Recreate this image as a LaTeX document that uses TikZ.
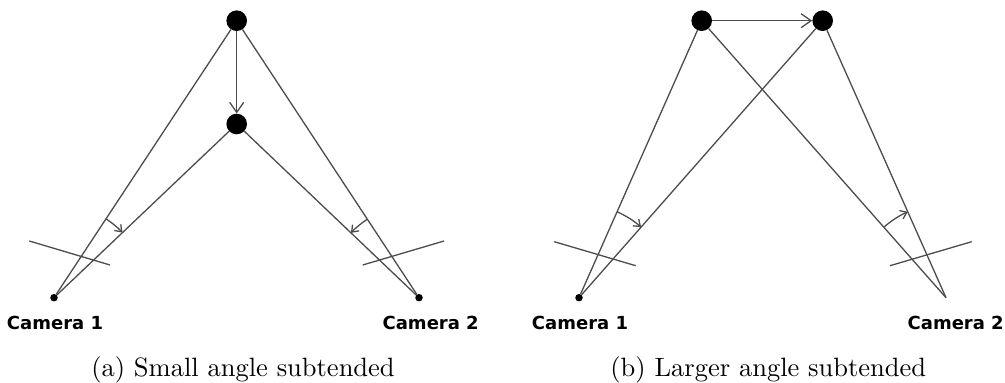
\documentclass[tikz,border=0pt]{standalone}
\usepackage{fontspec}
\usepackage{graphicx}
\newfontfamily\camfont{DejaVu Sans}
\usetikzlibrary{arrows.meta}

\begin{document}
\begin{tikzpicture}[x=1pt,y=-1pt,
  ray/.style={draw=black!70, line width=1.3pt},
  point/.style={circle, fill=black, inner sep=0pt, minimum size=20.6pt},
  cam/.style={circle, fill=black, inner sep=0pt, minimum size=7.5pt},
  motion/.style={ray, -{Straight Barb[length=10pt,width=14pt]}},
  sweep/.style={ray, -{Straight Barb[length=6pt,width=9pt]}},
  camlabel/.style={font=\camfont\fontsize{18}{20}\selectfont\bfseries, anchor=base, inner sep=0pt},
  caption/.style={anchor=base, inner sep=0pt}]

\useasboundingbox (0,0) rectangle (1005,383);

% ---------- (a) point moving towards the cameras ----------
\node[point] (T)  at (236.7,20.7) {};
\node[point] (M)  at (236.7,124)  {};
\node[cam]   (C1) at (54,297.7)   {};
\node[cam]   (C2) at (419,297.7)  {};

\draw[ray] (C1) -- (T);
\draw[ray] (C1) -- (M);
\draw[ray] (C2) -- (T);
\draw[ray] (C2) -- (M);
\draw[motion] (T) -- (M);

% image planes
\coordinate (pa1) at (29.3,241);
\coordinate (pa2) at (110,265);
\coordinate (pa3) at (362.7,265);
\coordinate (pa4) at (444,241);
\draw[ray] (pa1) -- (pa2);
\draw[ray] (pa3) -- (pa4);

% angle swept at each camera
\draw[sweep] ([shift={(-56.6:94.5)}]C1.center) arc[start angle=-56.6, end angle=-43.6, radius=94.5];
\draw[sweep] ([shift={(-123.35:94)}]C2.center) arc[start angle=-123.35, end angle=-136.4, radius=94];

\node[camlabel] (LA1) at (55,329.5)    {Camera 1};
\node[camlabel] (LA2) at (430.7,329.5) {Camera 2};
\node[caption]  (capA) at (243,376) {\scalebox{2.65}{(a) Small angle subtended}};

% ---------- (b) point moving sideways ----------
\node[point] (L)  at (701.7,20.7) {};
\node[point] (R)  at (822.7,20.7) {};
\node[cam]   (D1) at (579,297.7)  {};
\coordinate  (D2) at (946,297.7);

\draw[ray] (D1) -- (L);
\draw[ray] (D1) -- (R);
\draw[ray] (D2) -- (L);
\draw[ray] (D2) -- (R);
\draw[motion] (L) -- (R);

% image planes
\coordinate (pb1) at (554.3,241.7);
\coordinate (pb2) at (635.7,265.7);
\coordinate (pb3) at (890,265.7);
\coordinate (pb4) at (971.7,241.7);
\draw[ray] (pb1) -- (pb2);
\draw[ray] (pb3) -- (pb4);

% angle swept at each camera
\draw[sweep] ([shift={(-66.1:94)}]D1.center) arc[start angle=-66.1, end angle=-48.66, radius=94];
\draw[sweep] ([shift={(-131.4:94)}]D2) arc[start angle=-131.4, end angle=-114.0, radius=94];

\node[camlabel] (LB1) at (580,329.5)   {Camera 1};
\node[camlabel] (LB2) at (955.7,329.5) {Camera 2};
\node[caption]  (capB) at (768.3,376) {\scalebox{2.65}{(b) Larger angle subtended}};
\end{tikzpicture}
\end{document}
